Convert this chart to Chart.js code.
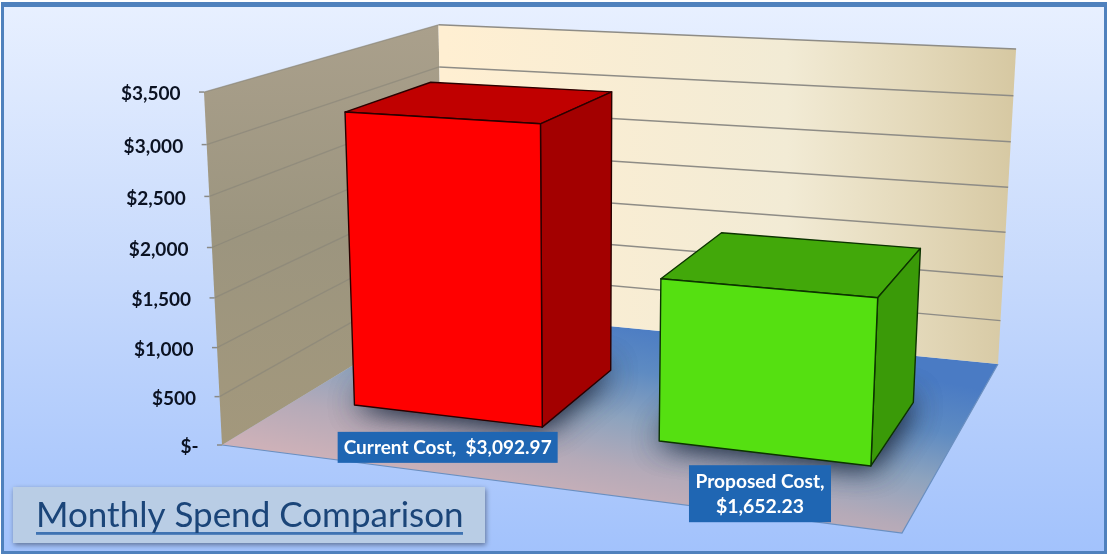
<!DOCTYPE html>
<html>
<head>
<meta charset="utf-8">
<style>html,body{margin:0;padding:0;background:#fff}canvas{display:block}</style>
<script src="https://cdn.jsdelivr.net/npm/chart.js@4"></script>
</head>
<body>
<canvas id="c" width="1108" height="555"></canvas>
<script>
const categories = ["Current Cost", "Proposed Cost"];
const monthlyCost = [3092.97, 1652.23];
const tickMax = 3500;
const tickStep = 500;
const barFrontColors = ["#FF0000", "#55E011"];
const barTopColors = ["#C00000", "#42A80A"];
const barSideColors = ["#A30000", "#3A9A08"];
const chartTitle = "Monthly Spend Comparison";

/* Camera of the 3-D scene: floor corners (front-left, front-right, back-right, back-left) and vertical vanishing point */
const FL=[222,445],FR=[902,533],BR=[998,364],BL=[444,310];
const VP=[585,7554],K=-0.0473;
const sx=FL[0]-FR[0]+BR[0]-BL[0], sy=FL[1]-FR[1]+BR[1]-BL[1];
const dx1=FR[0]-BR[0],dx2=BL[0]-BR[0],dy1=FR[1]-BR[1],dy2=BL[1]-BR[1];
const det=dx1*dy2-dx2*dy1;
const G=(sx*dy2-dx2*sy)/det,H=(dx1*sy-sx*dy1)/det;
const A=FR[0]-FL[0]+G*FR[0],B=BL[0]-FL[0]+H*BL[0],C=FL[0];
const D=FR[1]-FL[1]+G*FR[1],E=BL[1]-FL[1]+H*BL[1],F=FL[1];
function project(u,w,h){
  const X=A*u+B*w+C+h*K*VP[0],Y=D*u+E*w+F+h*K*VP[1],W=G*u+H*w+1+h*K;
  return [X/W,Y/W];
}
function poly(ctx,pts){ctx.beginPath();pts.forEach((p,i)=>i?ctx.lineTo(p[0],p[1]):ctx.moveTo(p[0],p[1]));ctx.closePath();}
function frac(chart,v){const y=chart.scales.y;return (y.bottom-y.getPixelForValue(v))/(y.bottom-y.top);}
function money(v){return "$"+v.toLocaleString("en-US",{minimumFractionDigits:2,maximumFractionDigits:2});}
function floorU(el,area){return (el.x-area.left)/area.width*.995+.0057;}

const BAR_DEPTH=[0.297,0.685];
const LABEL_BOX=[{w:220,h:31,gap:16,dx:1},{w:142,h:57,gap:12,dx:-3}];

const scene={
  id:"scene",
  beforeDraw(chart){
    const ctx=chart.ctx,y=chart.scales.y;
    ctx.save();
    ctx.fillStyle="#fff";ctx.fillRect(0,0,1108,555);
    const bg=ctx.createLinearGradient(0,2,0,554);
    bg.addColorStop(0,"#E8F0FF");bg.addColorStop(.5,"#C6D9FC");bg.addColorStop(1,"#A2C2FC");
    ctx.fillStyle=bg;ctx.fillRect(1,2,1106,552);
    ctx.fillStyle="#4F81BD";
    ctx.fillRect(1,2,1106,5);ctx.fillRect(1,551,1106,3);ctx.fillRect(1,2,3,552);ctx.fillRect(1104,2,3,552);

    /* title panel */
    ctx.save();ctx.shadowColor="rgba(40,50,70,.55)";ctx.shadowBlur=5;ctx.shadowOffsetX=1;ctx.shadowOffsetY=2;
    ctx.fillStyle="#B9CDE5";ctx.fillRect(13,487,472,56);ctx.restore();
    ctx.fillStyle="#3F73B2";ctx.fillRect(36,532,427,2.8);

    const a=project(0,0,0),b=project(1,0,0),c=project(1,1,0),d=project(0,1,0);
    const at=project(0,0,1),ct=project(1,1,1),dt=project(0,1,1);
    /* floor */
    const fg=ctx.createLinearGradient(720,337,681,531);
    fg.addColorStop(0,"#4A7BC4");fg.addColorStop(.25,"#5E8BC2");fg.addColorStop(.5,"#8DA3BE");fg.addColorStop(.75,"#B5AAB8");fg.addColorStop(1,"#CDB1B8");
    ctx.fillStyle=fg;poly(ctx,[a,b,c,d]);ctx.fill();
    ctx.strokeStyle="#6A8FC0";ctx.lineWidth=1.2;
    ctx.beginPath();ctx.moveTo(a[0],a[1]);ctx.lineTo(b[0],b[1]);ctx.lineTo(c[0],c[1]);ctx.stroke();
    /* left wall */
    const lg=ctx.createLinearGradient(0,22,0,445);
    lg.addColorStop(0,"#AAA08C");lg.addColorStop(.5,"#9C957F");lg.addColorStop(1,"#A3987C");
    ctx.fillStyle=lg;poly(ctx,[a,d,dt,at]);ctx.fill();
    /* back wall */
    const bgw=ctx.createLinearGradient(d[0],0,ct[0],0);
    bgw.addColorStop(0,"#FFEFD2");bgw.addColorStop(.6,"#F2EBD5");bgw.addColorStop(.83,"#E3D8B9");bgw.addColorStop(1,"#D6C8A2");
    ctx.fillStyle=bgw;poly(ctx,[d,c,ct,dt]);ctx.fill();
    /* grid lines and tick marks from the value scale */
    y.ticks.forEach(t=>{
      const h=frac(chart,t.value),p=project(0,0,h),q=project(0,1,h),r=project(1,1,h);
      if(t.value>0){
        ctx.strokeStyle="rgba(135,132,120,.6)";ctx.lineWidth=1.3;
        ctx.beginPath();ctx.moveTo(p[0],p[1]);ctx.lineTo(q[0],q[1]);ctx.stroke();
        ctx.strokeStyle="#8E8C86";ctx.lineWidth=1.5;
        ctx.beginPath();ctx.moveTo(q[0],q[1]);ctx.lineTo(r[0],r[1]);ctx.stroke();
      }
      ctx.strokeStyle="#8A8A86";ctx.lineWidth=1.5;
      ctx.beginPath();ctx.moveTo(p[0]-5,p[1]);ctx.lineTo(p[0],p[1]);ctx.stroke();
    });
    /* place tick labels along the slanted wall edge */
    const items=y.getLabelItems(chart.chartArea);
    items.forEach((it,i)=>{
      const p=project(0,0,frac(chart,y.ticks[i].value));
      it.options.translation=[p[0]-23.5,p[1]+2];
    });
    ctx.restore();
  },
  afterDatasetsDraw(chart){
    const ctx=chart.ctx,area=chart.chartArea,meta=chart.getDatasetMeta(0);
    const a=project(0,0,0),b=project(1,0,0),c=project(1,1,0),d=project(0,1,0);
    const [w0,w1]=BAR_DEPTH;
    meta.data.forEach((el,i)=>{
      const uc=floorU(el,area),hw=el.width/area.width/2;
      const u0=uc-hw,u1=uc+hw,h=frac(chart,monthlyCost[i]);
      const f0=project(u0,w0,0),f1=project(u1,w0,0),b1=project(u1,w1,0),b0=project(u0,w1,0);
      const t0=project(u0,w0,h),t1=project(u1,w0,h),t2=project(u1,w1,h),t3=project(u0,w1,h);
      /* soft floor shadow */
      ctx.save();
      poly(ctx,[a,b,c,d]);ctx.clip();
      ctx.shadowColor="rgba(30,40,60,.85)";ctx.shadowBlur=30;
      ctx.fillStyle="#334";
      poly(ctx,[f0,f1,b1,b0]);ctx.fill();ctx.fill();
      ctx.restore();
      ctx.save();
      ctx.lineJoin="round";ctx.lineWidth=1.4;ctx.strokeStyle=i?"#0C3300":"#2A0000";
      ctx.fillStyle=barTopColors[i];poly(ctx,[t0,t1,t2,t3]);ctx.fill();ctx.stroke();
      ctx.fillStyle=barSideColors[i];poly(ctx,[f1,b1,t2,t1]);ctx.fill();ctx.stroke();
      ctx.fillStyle=barFrontColors[i];poly(ctx,[f0,f1,t1,t0]);ctx.fill();ctx.stroke();
      ctx.restore();
    });
    /* data labels */
    meta.data.forEach((el,i)=>{
      const anchor=project(floorU(el,area),w0,0),box=LABEL_BOX[i];
      const x=anchor[0]+box.dx,top=anchor[1]+box.gap;
      ctx.save();
      ctx.fillStyle="#1F66B3";ctx.fillRect(x-box.w/2,top,box.w,box.h);
      ctx.fillStyle="#fff";ctx.font="bold 19.5px Lato";ctx.textAlign="center";ctx.textBaseline="middle";
      if(i===0){
        ctx.fillText(categories[i]+",  "+money(monthlyCost[i]),x,top+box.h/2+.5,208);
      }else{
        ctx.fillText(categories[i]+",",x,top+box.h/2-12,129);
        ctx.fillText(money(monthlyCost[i]),x,top+box.h/2+13,88);
      }
      ctx.restore();
    });
  }
};

new Chart(document.getElementById("c"),{
  type:"bar",
  data:{labels:categories,datasets:[{label:"Monthly Spend",data:monthlyCost,backgroundColor:"rgba(0,0,0,0)",borderWidth:0,barPercentage:.627,categoryPercentage:1}]},
  options:{
    responsive:false,animation:false,devicePixelRatio:1,
    events:[],
    layout:{padding:{left:36,top:92,right:100,bottom:19.6}},
    scales:{
      x:{display:false,grid:{display:false}},
      y:{min:0,max:tickMax,grid:{display:false},border:{display:false},
         afterFit:s=>{s.width=186;},
         ticks:{stepSize:tickStep,autoSkip:false,color:"#0B1222",font:{family:"Lato",weight:"bold",size:19},
           callback:v=>v===0?"$-":"$"+v.toLocaleString("en-US")}}
    },
    plugins:{
      legend:{display:false},tooltip:{enabled:false},
      title:{display:true,text:chartTitle,position:"bottom",align:"start",color:"#1B4579",
        font:{family:"Lato",size:35,weight:"normal",lineHeight:38.4/35},padding:{top:52,bottom:0}}
    }
  },
  plugins:[scene]
});
</script>
</body>
</html>
